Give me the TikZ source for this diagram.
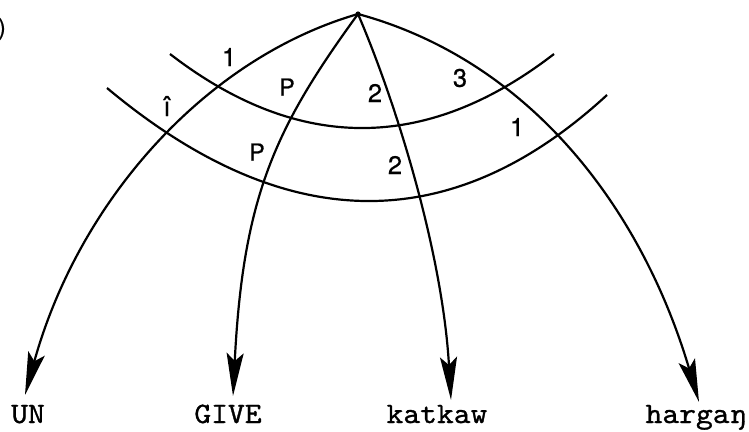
\documentclass[tikz,border=0pt]{standalone}
\usepackage{fontspec}
\usepackage{graphicx}
\newfontfamily\labfont[FakeBold=0.6]{TeX Gyre Heros}
\newfontfamily\wordfont[FakeStretch=1.08,FakeBold=1]{Latin Modern Mono}
\usetikzlibrary{arrows.meta}
\newcommand{\lbl}[2][17pt]{\resizebox{!}{#1}{\labfont #2}}
\newcommand{\wrd}[2]{\resizebox{#1}{!}{\wordfont #2}}
\tikzset{
  conn/.style={line width=2.2pt, line join=round,
    -{Stealth[length=43pt,width=17pt,inset=8pt]}},
  arc/.style={line width=2.2pt},
  lab/.style={inner sep=0pt},
  word/.style={inner sep=0pt, anchor=base},
}
\begin{document}
\begin{tikzpicture}[x=1pt,y=-1pt]
\useasboundingbox (0,0) rectangle (749,431);
\coordinate (apex) at (358,14);
\coordinate (t1) at (25,395);
\coordinate (t2) at (233,396);
\coordinate (t3) at (451,400);
\coordinate (t4) at (699,402);
\coordinate (ua) at (170,54);
\coordinate (ub) at (554,54);
\coordinate (la) at (107,88);
\coordinate (lb) at (607,95);
% arcs
\draw[arc] (ua) .. controls (298,152.7) and (426,152.7) .. (ub);
\draw[arc] (la) .. controls (284.3,236.3) and (451,238.7) .. (lb);
% connectors
\draw[conn] (apex) .. controls (204.2,58.5) and (78.4,202.2) .. (t1);
\draw[conn] (apex) .. controls (275.4,127.4) and (243,196) .. (t2);
\draw[conn] (apex) .. controls (395,100) and (442.3,250.3) .. (t3);
\draw[conn] (apex) .. controls (531.7,61.3) and (642.2,210.2) .. (t4);
\fill (apex) circle (2.6pt);
% labels
\node[lab] (l1) at (229,57) {\lbl[18pt]{1}};
\node[lab] (l2) at (167,106) {\lbl[20pt]{î}};
\node[lab] (l3) at (287,87) {\lbl{P}};
\node[lab] (l4) at (257,152) {\lbl{P}};
\node[lab] (l5) at (375,93) {\lbl[18pt]{2}};
\node[lab] (l6) at (460,78) {\lbl[18pt]{3}};
\node[lab] (l7) at (517,127) {\lbl[18pt]{1}};
\node[lab] (l8) at (395,165) {\lbl[18pt]{2}};
\node[lab, anchor=east] (paren) at (6,29) {\lbl[17pt]{)}};
% words
\node[word] (w1) at (28,423) {\wrd{33.6pt}{UN}};
\node[word] (w2) at (228,423) {\wrd{67.2pt}{GIVE}};
\node[word] (w3) at (437,423) {\wrd{100.8pt}{katkaw}};
\node[word] (w4) at (696,423) {\wrd{100.8pt}{hargaŋ}};
\end{tikzpicture}
\end{document}
